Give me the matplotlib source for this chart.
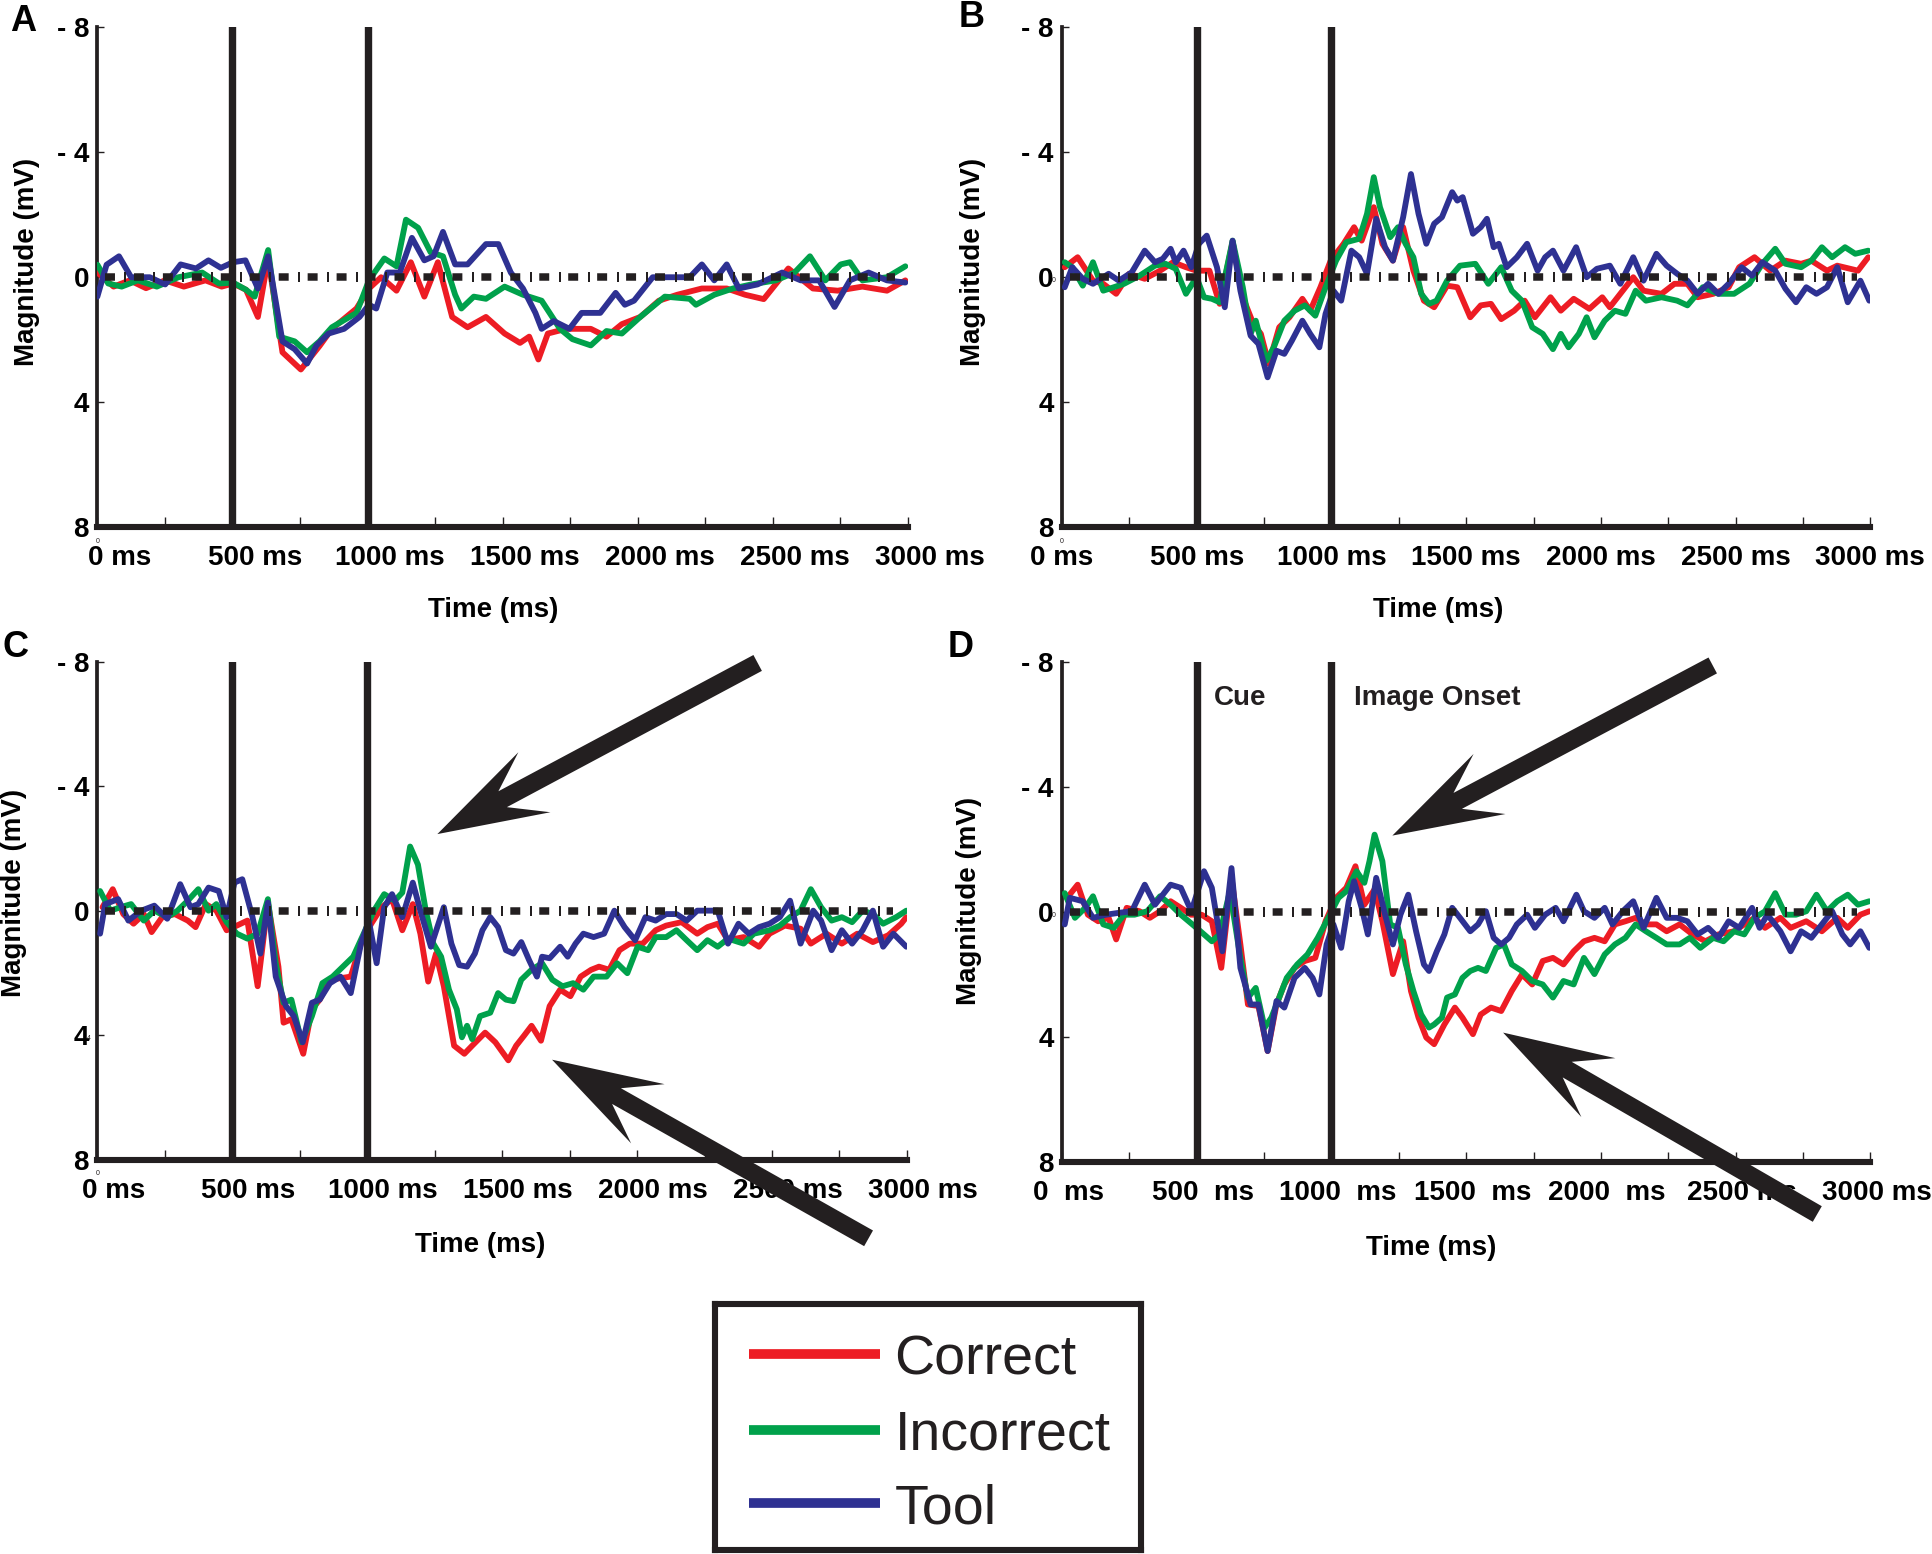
import numpy as np
import matplotlib
matplotlib.use('Agg')
import matplotlib.pyplot as plt
from matplotlib.lines import Line2D
from matplotlib.patches import Polygon
from matplotlib.transforms import ScaledTranslation, IdentityTransform

plt.rcParams['font.family'] = ['Liberation Sans', 'DejaVu Sans']

RED = '#ED1C24'
GREEN = '#00A14B'
BLUE = '#2E3192'
INK = '#231F20'

series_names = ['Correct', 'Incorrect', 'Tool']
series_colors = [RED, GREEN, BLUE]

x_ticks = [0, 500, 1000, 1500, 2000, 2500, 3000]
x_ticklabels = ['0 ms', '500 ms', '1000 ms', '1500 ms', '2000 ms', '2500 ms', '3000 ms']
x_ticklabels_d = ['0  ms', '500  ms', '1000  ms', '1500  ms', '2000  ms', '2500 ms', '3000 ms']
y_ticks = [-8, -4, 0, 4, 8]
y_ticklabels = ['- 8', '- 4', '0', '4', '8']
event_times = [500, 1000]

# (time ms, magnitude); positive values plot downward
a_red = [(0, -0.15), (60, 0.3), (120, 0.1), (180, 0.35), (250, 0.1), (320, 0.3), (400, 0.1), (460, 0.3),
         (502, 0.2), (550, 0.4), (594, 1.27), (632, -0.6), (685, 2.4), (753, 2.95), (822, 2.2), (868, 1.65),
         (959, 1.0), (1005, 0.36), (1050, 0.0), (1107, 0.43), (1160, -0.48), (1210, 0.62), (1260, -0.48),
         (1313, 1.27), (1370, 1.6), (1438, 1.27), (1507, 1.8), (1564, 2.1), (1598, 1.9), (1632, 2.63),
         (1667, 1.8), (1735, 1.65), (1826, 1.65), (1884, 1.9), (1941, 1.5), (2009, 1.27), (2078, 0.75),
         (2146, 0.56), (2237, 0.36), (2329, 0.36), (2397, 0.56), (2466, 0.7), (2557, -0.28), (2648, 0.36),
         (2740, 0.43), (2831, 0.3), (2922, 0.43), (2990, 0.1)]
a_green = [(0, -0.4), (40, 0.2), (90, 0.3), (150, 0.1), (220, 0.3), (300, 0.0), (388, -0.15), (450, 0.2),
           (502, 0.17), (550, 0.4), (582, 0.62), (632, -0.87), (673, 1.9), (730, 2.05), (776, 2.4), (822, 2.05),
           (868, 1.6), (959, 1.14), (1005, 0.1), (1062, -0.6), (1107, -0.35), (1142, -1.84), (1187, -1.58),
           (1233, -0.8), (1279, -0.67), (1324, 0.56), (1347, 1.0), (1393, 0.62), (1438, 0.69), (1507, 0.3),
           (1575, 0.56), (1644, 0.75), (1712, 1.65), (1758, 1.98), (1826, 2.18), (1884, 1.72), (1941, 1.8),
           (2009, 1.27), (2100, 0.62), (2192, 0.69), (2215, 0.88), (2283, 0.56), (2352, 0.36), (2420, 0.23),
           (2511, 0.1), (2580, -0.15), (2637, -0.67), (2694, 0.1), (2751, -0.41), (2785, -0.48), (2831, 0.1),
           (2922, 0.0), (2990, -0.35)]
a_blue = [(0, 0.62), (34, -0.4), (80, -0.67), (125, 0.0), (194, 0.0), (251, 0.23), (308, -0.41), (365, -0.28),
          (411, -0.54), (457, -0.3), (502, -0.48), (548, -0.54), (594, 0.36), (632, -0.67), (685, 2.05),
          (730, 2.3), (776, 2.76), (811, 2.18), (856, 1.8), (913, 1.65), (970, 1.27), (1005, 0.88), (1032, 1.0),
          (1073, -0.15), (1119, -0.15), (1164, -1.26), (1210, -0.54), (1244, -0.67), (1279, -1.45),
          (1324, -0.41), (1370, -0.41), (1438, -1.06), (1484, -1.06), (1530, -0.15), (1575, 0.36), (1621, 1.14),
          (1644, 1.65), (1689, 1.4), (1747, 1.65), (1792, 1.14), (1861, 1.14), (1918, 0.5), (1952, 0.88),
          (1986, 0.75), (2055, 0.0), (2123, 0.0), (2192, 0.0), (2237, -0.41), (2283, 0.1), (2329, -0.41),
          (2374, 0.36), (2443, 0.23), (2534, -0.15), (2603, 0.1), (2671, 0.1), (2728, 0.95), (2785, 0.1),
          (2854, -0.15), (2922, 0.1), (2990, 0.17)]

b_red = [(10, -0.32), (58, -0.64), (115, 0.11), (153, 0.21), (201, 0.53), (249, -0.11), (307, 0.05), (364, -0.21),
         (412, -0.48), (460, -0.32), (499, -0.21), (547, -0.21), (585, 0.85), (633, -1.12), (671, 0.64),
         (710, 1.49), (738, 1.81), (767, 2.77), (806, 1.6), (844, 1.28), (892, 0.69), (921, 1.07), (959, 0.32),
         (997, -0.53), (1045, -1.07), (1084, -1.6), (1112, -1.17), (1157, -2.24), (1189, -1.07), (1228, -0.53),
         (1266, -1.6), (1304, -0.21), (1343, 0.75), (1381, 0.96), (1429, 0.27), (1467, 0.32), (1515, 1.28),
         (1554, 0.9), (1592, 0.85), (1630, 1.34), (1678, 1.07), (1717, 0.75), (1755, 1.28), (1813, 0.64),
         (1851, 1.07), (1899, 0.69), (1957, 1.01), (2005, 0.64), (2033, 0.96), (2081, 0.43), (2120, 0.0),
         (2158, 0.43), (2225, 0.53), (2273, 0.21), (2321, 0.21), (2359, 0.64), (2417, 0.53), (2474, 0.32),
         (2513, -0.32), (2570, -0.64), (2628, -0.21), (2685, -0.53), (2743, -0.43), (2781, -0.53),
         (2839, -0.21), (2877, -0.37), (2954, -0.21), (2992, -0.64)]
b_green = [(10, -0.48), (38, -0.32), (77, 0.27), (115, -0.48), (153, 0.43), (192, 0.32), (230, 0.21), (288, -0.05),
           (345, -0.37), (384, -0.43), (422, -0.27), (460, 0.53), (499, 0.0), (527, 0.64), (556, 0.69),
           (585, 0.8), (633, -1.17), (671, 0.32), (700, 1.81), (719, 1.39), (758, 2.67), (786, 2.24), (825, 1.39),
           (863, 1.07), (901, 0.9), (940, 1.23), (978, 0.32), (1017, -0.53), (1055, -1.12), (1103, -1.23),
           (1132, -2.03), (1157, -3.2), (1180, -2.24), (1218, -1.28), (1247, -1.6), (1275, -1.07), (1304, -0.64),
           (1333, 0.53), (1362, 0.85), (1390, 0.75), (1429, 0.11), (1477, -0.37), (1534, -0.43), (1582, 0.21),
           (1630, -0.32), (1669, 0.43), (1707, 0.75), (1745, 1.6), (1784, 1.81), (1822, 2.3), (1851, 1.81),
           (1880, 2.24), (1918, 1.81), (1947, 1.28), (1976, 1.92), (2014, 1.39), (2052, 1.07), (2091, 1.17),
           (2129, 0.43), (2167, 0.75), (2225, 0.64), (2283, 0.75), (2321, 0.9), (2378, 0.32), (2436, 0.53),
           (2494, 0.53), (2551, 0.21), (2599, -0.43), (2647, -0.91), (2685, -0.43), (2743, -0.32), (2781, -0.53),
           (2820, -0.96), (2858, -0.64), (2906, -0.96), (2944, -0.75), (2992, -0.85)]
b_blue = [(10, 0.32), (38, -0.32), (77, 0.05), (115, 0.21), (173, -0.11), (211, 0.11), (259, -0.16), (307, -0.85),
          (345, -0.48), (374, -0.59), (403, -0.91), (422, -0.48), (451, -0.85), (480, -0.32), (508, -1.07),
          (537, -1.33), (575, -0.32), (604, 0.96), (633, -1.17), (662, 0.43), (700, 1.87), (729, 2.13),
          (763, 3.2), (796, 2.35), (825, 2.45), (853, 2.03), (892, 1.39), (921, 1.81), (955, 2.24), (978, 1.17),
          (1007, 0.43), (1036, 0.75), (1074, -0.85), (1103, -0.64), (1132, -0.11), (1166, -1.87), (1199, -0.96),
          (1228, -0.53), (1266, -1.92), (1295, -3.3), (1323, -2.03), (1352, -1.07), (1381, -1.71), (1410, -1.92),
          (1448, -2.72), (1467, -2.45), (1487, -2.56), (1525, -1.39), (1554, -1.6), (1577, -1.87), (1602, -0.96),
          (1621, -1.07), (1650, -0.32), (1688, -0.64), (1726, -1.07), (1765, -0.21), (1793, -0.64),
          (1822, -0.85), (1861, -0.21), (1908, -0.96), (1947, 0.0), (1985, -0.27), (2033, -0.37), (2072, 0.21),
          (2120, -0.64), (2158, 0.11), (2206, -0.75), (2244, -0.37), (2283, -0.11), (2321, 0.11), (2359, 0.53),
          (2398, 0.21), (2436, 0.53), (2474, 0.21), (2522, -0.32), (2561, -0.05), (2599, -0.48), (2647, -0.21),
          (2685, 0.37), (2724, 0.8), (2762, 0.32), (2800, 0.53), (2839, 0.32), (2877, -0.32), (2916, 0.8),
          (2963, 0.11), (2996, 0.75)]

c_red = [(19, -0.11), (57, -0.69), (96, 0.11), (134, 0.42), (172, 0.11), (201, 0.69), (240, 0.21), (287, 0.11),
         (335, 0.32), (364, 0.53), (402, -0.21), (441, 0.0), (479, 0.63), (517, 0.48), (556, 0.32), (594, 2.43),
         (632, -0.26), (671, 1.8), (690, 3.6), (719, 3.49), (763, 4.6), (795, 3.17), (824, 2.86), (862, 2.22),
         (901, 2.17), (939, 2.12), (977, 1.06), (1015, 0.42), (1054, -0.11), (1092, -0.37), (1130, 0.63),
         (1169, -0.21), (1197, 0.74), (1226, 2.28), (1255, 1.38), (1284, 2.43), (1322, 4.34), (1360, 4.6),
         (1389, 4.34), (1437, 3.92), (1475, 4.23), (1523, 4.81), (1552, 4.34), (1581, 4.02), (1609, 3.7),
         (1644, 4.18), (1676, 3.07), (1715, 2.54), (1753, 2.75), (1791, 2.12), (1830, 1.9), (1859, 1.8),
         (1897, 1.9), (1935, 1.27), (1973, 1.06), (2021, 1.06), (2069, 0.63), (2108, 0.48), (2165, 0.37),
         (2223, 0.74), (2261, 0.53), (2299, 0.42), (2337, 0.95), (2395, 0.85), (2452, 1.16), (2491, 0.74),
         (2548, 0.48), (2606, 0.58), (2644, 1.06), (2702, 0.74), (2759, 1.06), (2816, 0.74), (2874, 1.01),
         (2931, 0.79), (2979, 0.42), (2998, 0.21)]
c_green = [(10, -0.63), (48, 0.0), (86, -0.11), (125, -0.21), (172, 0.32), (211, 0.0), (259, 0.21), (297, 0.0),
           (335, -0.32), (374, -0.69), (412, 0.0), (441, -0.21), (479, 0.37), (517, 0.74), (556, 0.9), (594, 0.74),
           (632, -0.37), (661, 1.69), (690, 2.96), (719, 2.86), (757, 4.23), (795, 3.39), (834, 2.33), (872, 2.12),
           (910, 1.8), (948, 1.48), (987, 0.74), (1025, 0.0), (1063, -0.53), (1102, -0.32), (1130, -0.58),
           (1159, -2.06), (1188, -1.48), (1217, 0.0), (1245, 1.06), (1274, 1.48), (1303, 2.54), (1332, 3.17),
           (1351, 4.07), (1370, 3.7), (1389, 4.13), (1418, 3.39), (1456, 3.28), (1485, 2.65), (1514, 2.86),
           (1542, 2.91), (1571, 2.22), (1609, 1.9), (1648, 1.69), (1686, 2.22), (1724, 2.43), (1763, 2.33),
           (1801, 2.54), (1839, 2.12), (1887, 2.12), (1926, 1.69), (1964, 2.01), (2002, 1.16), (2041, 1.27),
           (2069, 0.85), (2108, 0.85), (2146, 0.63), (2184, 0.95), (2223, 1.27), (2261, 0.95), (2299, 1.16),
           (2337, 0.9), (2395, 1.06), (2433, 0.74), (2491, 0.63), (2529, 0.48), (2567, 0.21), (2606, 0.0),
           (2644, -0.69), (2682, -0.11), (2721, 0.32), (2759, 0.21), (2797, 0.37), (2836, 0.0), (2874, 0.11),
           (2912, 0.42), (2960, 0.21), (2998, 0.0)]
c_blue = [(10, 0.74), (29, -0.21), (77, -0.37), (115, 0.32), (163, 0.0), (211, -0.16), (259, 0.26), (307, -0.85),
          (345, -0.11), (374, -0.21), (412, -0.74), (450, -0.63), (479, 0.21), (508, -0.9), (537, -1.01),
          (575, 0.21), (604, 1.38), (632, -0.26), (661, 2.12), (699, 3.07), (728, 3.39), (761, 4.23), (795, 2.96),
          (824, 2.86), (862, 2.33), (901, 2.12), (939, 2.65), (977, 1.06), (1006, 0.32), (1035, 1.69),
          (1063, -0.11), (1092, -0.53), (1130, 0.21), (1169, -0.9), (1197, 0.0), (1236, 1.16), (1284, -0.11),
          (1312, 1.06), (1341, 1.75), (1370, 1.8), (1399, 1.38), (1427, 0.63), (1456, 0.21), (1485, 0.53),
          (1514, 1.27), (1542, 1.38), (1571, 1.01), (1600, 1.59), (1629, 2.12), (1648, 1.48), (1676, 1.53),
          (1715, 1.16), (1743, 1.48), (1772, 1.06), (1801, 0.74), (1839, 0.85), (1878, 0.74), (1916, 0.0),
          (1954, 0.53), (1993, 0.95), (2031, 0.21), (2069, 0.32), (2108, 0.11), (2146, 0.11), (2184, 0.32),
          (2223, 0.0), (2261, 0.0), (2299, 0.0), (2337, 1.06), (2376, 0.42), (2414, 0.74), (2452, 0.53),
          (2491, 0.42), (2529, 0.21), (2567, -0.32), (2606, 1.06), (2653, 0.0), (2682, 0.32), (2721, 1.27),
          (2759, 0.63), (2797, 1.06), (2836, 0.63), (2874, 0.0), (2912, 1.16), (2950, 0.74), (2998, 1.16)]

d_red = [(19, -0.45), (58, -0.87), (96, 0.09), (134, 0.3), (173, 0.19), (201, 0.88), (240, -0.13), (288, -0.02),
         (326, 0.19), (364, -0.02), (403, -0.34), (441, -0.13), (479, 0.09), (518, 0.09), (556, 0.3), (591, 1.79),
         (629, -1.09), (662, 1.04), (690, 2.96), (729, 3.01), (763, 4.45), (796, 2.96), (825, 2.32), (863, 1.79),
         (901, 1.57), (940, 1.47), (978, 0.3), (1017, -0.45), (1055, -0.77), (1089, -1.46), (1122, -0.23),
         (1160, -0.72), (1189, 0.3), (1228, 1.99), (1266, 0.94), (1295, 2.53), (1323, 3.38), (1352, 4.02),
         (1381, 4.23), (1419, 3.6), (1458, 3.06), (1486, 3.38), (1525, 3.91), (1554, 3.28), (1592, 3.06),
         (1630, 3.17), (1669, 2.53), (1707, 2.0), (1745, 2.32), (1784, 1.57), (1822, 1.47), (1861, 1.68),
         (1899, 1.26), (1937, 0.94), (1976, 0.83), (2014, 0.94), (2052, 0.4), (2091, 0.3), (2129, 0.19),
         (2167, 0.4), (2206, 0.4), (2244, 0.62), (2292, 0.4), (2340, 0.72), (2388, 0.94), (2436, 0.72),
         (2494, 0.62), (2532, 0.4), (2570, 0.19), (2609, 0.51), (2666, 0.19), (2704, 0.51), (2762, 0.3),
         (2820, 0.62), (2877, 0.19), (2916, 0.51), (2963, 0.09), (2996, -0.02)]
d_green = [(10, -0.6), (48, 0.19), (86, -0.13), (115, -0.5), (153, 0.4), (192, 0.51), (230, 0.09), (269, 0.09),
           (316, -0.02), (364, -0.5), (403, -0.23), (441, 0.09), (470, 0.3), (499, 0.51), (527, 0.72), (556, 0.94),
           (585, 0.72), (623, -0.66), (662, 1.47), (690, 2.74), (719, 2.43), (752, 3.7), (777, 3.38), (806, 2.74),
           (834, 2.11), (873, 1.68), (911, 1.36), (949, 0.83), (988, 0.19), (1026, -0.45), (1055, -0.66),
           (1093, -1.3), (1122, -0.93), (1141, -1.62), (1160, -2.47), (1189, -1.62), (1218, 0.4), (1247, 0.51),
           (1276, 1.68), (1304, 2.53), (1333, 3.28), (1362, 3.7), (1381, 3.6), (1410, 3.38), (1429, 2.74),
           (1458, 2.64), (1486, 2.11), (1515, 1.89), (1544, 1.79), (1573, 1.89), (1611, 1.15), (1640, 1.04),
           (1669, 1.68), (1707, 1.89), (1745, 2.21), (1784, 2.32), (1822, 2.74), (1861, 2.21), (1899, 2.32),
           (1937, 1.47), (1976, 1.99), (2014, 1.36), (2052, 1.04), (2091, 0.83), (2129, 0.4), (2167, 0.62),
           (2206, 0.83), (2244, 1.04), (2292, 1.04), (2330, 0.83), (2369, 1.15), (2417, 0.83), (2455, 0.94),
           (2494, 0.62), (2532, 0.72), (2570, 0.19), (2609, -0.02), (2647, -0.6), (2685, 0.09), (2724, 0.09),
           (2762, -0.02), (2800, -0.55), (2839, -0.02), (2877, -0.34), (2916, -0.55), (2954, -0.23), (2996, -0.34)]
d_blue = [(10, 0.4), (29, -0.45), (77, -0.34), (115, 0.19), (163, 0.09), (211, 0.03), (259, -0.02), (307, -0.87),
          (345, -0.23), (374, -0.55), (403, -0.87), (441, -0.77), (480, -0.02), (527, -1.3), (556, -0.77),
          (595, 1.26), (629, -1.4), (662, 1.79), (700, 2.96), (729, 2.96), (763, 4.45), (796, 2.85), (825, 3.06),
          (863, 2.11), (901, 1.79), (930, 2.11), (955, 2.64), (982, 1.04), (1007, 0.4), (1036, 1.15),
          (1064, -0.34), (1084, -0.98), (1112, -0.13), (1135, 0.72), (1166, -1.09), (1199, 0.09), (1228, 1.04),
          (1256, 0.09), (1285, -0.55), (1314, 0.62), (1343, 1.68), (1362, 1.89), (1391, 1.26), (1419, 0.72),
          (1448, -0.13), (1477, 0.19), (1515, 0.62), (1544, 0.4), (1573, -0.02), (1602, 0.83), (1630, 1.04),
          (1659, 0.83), (1688, 0.4), (1726, 0.09), (1755, 0.51), (1793, 0.09), (1832, -0.13), (1861, 0.3),
          (1909, -0.55), (1937, -0.02), (1976, 0.19), (2014, -0.13), (2043, 0.4), (2081, -0.02), (2120, -0.34),
          (2158, 0.51), (2206, -0.45), (2244, 0.19), (2283, 0.19), (2321, 0.3), (2359, 0.72), (2398, 0.51),
          (2436, 0.83), (2474, 0.3), (2513, 0.51), (2561, -0.13), (2589, 0.51), (2618, 0.09), (2666, 0.62),
          (2704, 1.26), (2743, 0.62), (2781, 0.83), (2820, 0.4), (2858, -0.02), (2896, 0.72), (2925, 1.04),
          (2963, 0.62), (2996, 1.15)]

# arrows in C and D: (tail, tip) in data units of their panel
c_arrows = [((2447, -7.96), (1260, -2.46)), ((2858, 10.53), (1685, 4.79))]
d_arrows = [((2415, -7.88), (1226, -2.44)), ((2803, 9.66), (1637, 3.86))]

fig = plt.figure(figsize=(19.32, 15.54), dpi=100)


def big_arrow(ax, tail, tip):
    p0 = ax.transData.transform(tail)
    p1 = ax.transData.transform(tip)
    d = p1 - p0
    u = d / np.hypot(d[0], d[1])
    n = np.array([-u[1], u[0]])
    head, notch, hw, sw = 110, 74, 34, 9
    base = p1 - u * head
    nb = p1 - u * notch
    pts = [p0 + n * sw, nb + n * sw, base + n * hw, p1, base - n * hw, nb - n * sw, p0 - n * sw]
    fig.add_artist(Polygon(pts, closed=True, transform=IdentityTransform(),
                           facecolor=INK, edgecolor='none', zorder=20))


def draw_panel(rect, curves, xlabels, shift_pt, ylab_xy, xlab_xy):
    ax = fig.add_axes(rect)
    ax.set_xlim(0, 3000)
    ax.set_ylim(8, -8)
    for pts, col in zip(curves, series_colors):
        arr = np.array(pts)
        ax.plot(arr[:, 0], arr[:, 1], color=col, lw=4.2, solid_joinstyle='round',
                solid_capstyle='round', zorder=3)
    # zero reference: heavy dashes with a thin tick between them
    ax.plot([30, 2950], [0, 0], color=INK, lw=5.4, linestyle=(0, (1.33, 2.53)),
            dash_capstyle='butt', zorder=4)
    ax.plot([30, 2950], [0, 0], color=INK, lw=7.2, linestyle=(1.0, (0.2, 2.7)),
            dash_capstyle='butt', zorder=4)
    for t in event_times:
        ax.axvline(t, color=INK, lw=5.3, zorder=5)
    for s in ['top', 'right']:
        ax.spines[s].set_visible(False)
    ax.spines['left'].set_linewidth(2.7)
    ax.spines['bottom'].set_linewidth(4.4)
    ax.spines['left'].set_color(INK)
    ax.spines['bottom'].set_color(INK)
    ax.set_xticks(x_ticks)
    ax.set_xticks(np.arange(250, 3000, 500), minor=True)
    ax.set_xticklabels(xlabels, fontweight='bold')
    ax.set_yticks(y_ticks)
    ax.set_yticklabels(y_ticklabels, fontweight='bold')
    ax.tick_params(axis='x', which='both', direction='in', length=7, width=1, color=INK,
                   labelsize=20, pad=13)
    ax.tick_params(axis='y', direction='in', length=5, width=1, color=INK, labelsize=20, pad=6)
    off = ScaledTranslation(shift_pt / 72, 0, fig.dpi_scale_trans)
    for lbl in ax.get_xticklabels():
        lbl.set_transform(lbl.get_transform() + off)
    ax.set_ylabel('Magnitude (mV)', fontsize=20, fontweight='bold')
    ax.set_xlabel('Time (ms)', fontsize=20, fontweight='bold')
    ax.yaxis.set_label_coords(*ylab_xy)
    ax.xaxis.set_label_coords(*xlab_xy)
    ax.patch.set_alpha(0)
    return ax


ax_a = draw_panel([0.0504, 0.6606, 0.4196, 0.3220], [a_red, a_green, a_blue], x_ticklabels, 16,
                  (-0.071, 0.53), (0.488, -0.140))
ax_b = draw_panel([0.5497, 0.6606, 0.4184, 0.3220], [b_red, b_green, b_blue], x_ticklabels, 0,
                  (-0.0945, 0.53), (0.465, -0.140))
ax_c = draw_panel([0.0504, 0.2538, 0.4190, 0.3204], [c_red, c_green, c_blue], x_ticklabels, 11.5,
                  (-0.0868, 0.535), (0.473, -0.146))
ax_d = draw_panel([0.5497, 0.2522, 0.4184, 0.3220], [d_red, d_green, d_blue], x_ticklabels_d, 4.5,
                  (-0.099, 0.522), (0.457, -0.145))

# small stray marks from the original artwork
for ax in [ax_a, ax_b, ax_c]:
    ax.text(0, 8.35, '0', fontsize=5, ha='center', va='top', color=INK)
ax_b.text(-25, 0.1, '0', fontsize=5, ha='right', va='center', color=INK)
ax_d.text(-25, 0.1, '0', fontsize=5, ha='right', va='center', color=INK)
ax_c.text(-25, 4.1, '4', fontsize=5, ha='right', va='center', color=INK)

ax_d.text(562, -6.85, 'Cue', fontsize=20, fontweight='bold', ha='left', va='center', color=INK)
ax_d.text(1084, -6.85, 'Image Onset', fontsize=20, fontweight='bold', ha='left', va='center', color=INK)

for tail, tip in c_arrows:
    big_arrow(ax_c, tail, tip)
for tail, tip in d_arrows:
    big_arrow(ax_d, tail, tip)

# panel letters
fig.text(8 / 1568, 1 - 3 / 1261, 'A', fontsize=26, fontweight='bold', va='top', ha='left')
fig.text(778 / 1568, 1 - 0 / 1261, 'B', fontsize=26, fontweight='bold', va='top', ha='left')
fig.text(2 / 1568, 1 - 511 / 1261, 'C', fontsize=26, fontweight='bold', va='top', ha='left')
fig.text(769 / 1568, 1 - 511 / 1261, 'D', fontsize=26, fontweight='bold', va='top', ha='left')

# legend box drawn by hand
ax_leg = fig.add_axes([0.3699, 0.0024, 0.2207, 0.1586])
ax_leg.set_xlim(0, 1)
ax_leg.set_ylim(0, 1)
ax_leg.set_xticks([])
ax_leg.set_yticks([])
for s in ax_leg.spines.values():
    s.set_linewidth(4.4)
    s.set_color(INK)
row_y = [0.795, 0.49, 0.19]
for name, col, yy in zip(series_names, series_colors, row_y):
    ax_leg.add_line(Line2D([0.081, 0.387], [yy, yy], color=col, lw=7, solid_capstyle='butt'))
    ax_leg.text(0.422, yy - 0.025, name, fontsize=40, ha='left', va='center', color=INK)

fig.savefig('out.png', dpi=100)
